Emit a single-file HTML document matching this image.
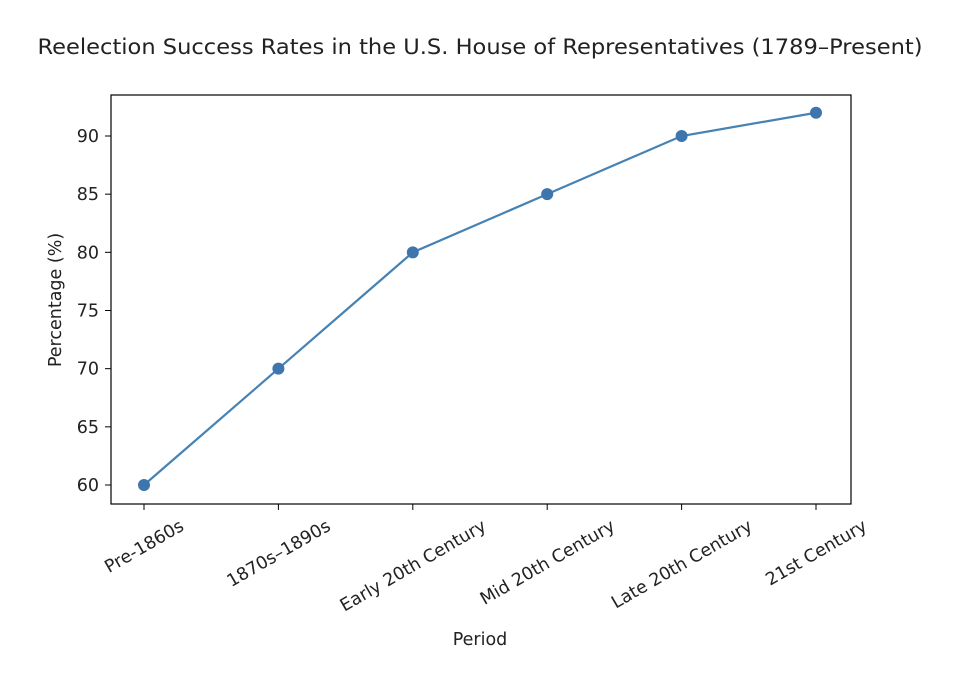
<!DOCTYPE html>
<html><head><meta charset="utf-8"><style>
body{margin:0;background:#fff;}
svg text{font-family:"DejaVu Sans","Liberation Sans",sans-serif;fill:#222;}
</style></head><body>
<svg width="958" height="688" viewBox="0 0 958 688" xmlns="http://www.w3.org/2000/svg">
<text x="480" y="54" text-anchor="middle" font-size="21" textLength="885" lengthAdjust="spacingAndGlyphs">Reelection Success Rates in the U.S. House of Representatives (1789–Present)</text>
<rect x="111" y="95" width="740" height="409" fill="none" stroke="#000" stroke-width="1.2"/>
<g id="yticks"></g><g id="xticks"></g>
<polyline id="line" fill="none" stroke="#4682b4" stroke-width="2.2"/>
<g id="pts"></g>
<text x="480" y="645" text-anchor="middle" font-size="17.5">Period</text>
<text transform="translate(61,300) rotate(-90)" text-anchor="middle" font-size="17.5">Percentage (%)</text>
</svg>
<script>
const categories=["Pre-1860s","1870s–1890s","Early 20th Century","Mid 20th Century","Late 20th Century","21st Century"];
const values=[60,70,80,85,90,92];
const yTicks=[60,65,70,75,80,85,90];
const NS="http://www.w3.org/2000/svg";
function xs(i){return 144+i*134.4;}
function ys(v){return 485-(v-60)*(485-136)/30;}
const yt=document.getElementById('yticks');
yTicks.forEach(t=>{
 const l=document.createElementNS(NS,'line');
 l.setAttribute('x1',105);l.setAttribute('x2',111);l.setAttribute('y1',ys(t));l.setAttribute('y2',ys(t));l.setAttribute('stroke','#000');
 
 
 yt.appendChild(l);
 const tx=document.createElementNS(NS,'text');
 tx.setAttribute('x',99);tx.setAttribute('y',ys(t)+6);tx.setAttribute('text-anchor','end');tx.setAttribute('font-size','17.5');
 tx.textContent=t;
 
 
 yt.appendChild(tx);
});
const xt=document.getElementById('xticks');
categories.forEach((c,i)=>{
 const x=xs(i);
 const l=document.createElementNS(NS,'line');
 l.setAttribute('x1',x);l.setAttribute('x2',x);l.setAttribute('y1',504);l.setAttribute('y2',510);l.setAttribute('stroke','#000');
 
 
 xt.appendChild(l);
 const tx=document.createElementNS(NS,'text');
 tx.setAttribute('text-anchor','middle');tx.setAttribute('font-size','17.5');tx.setAttribute('dy','0.35em');
 tx.textContent=c;
 
 
 xt.appendChild(tx);
 const w=tx.getComputedTextLength();
 tx.setAttribute('transform','translate('+x+','+(516+w*0.25+8)+') rotate(-30)');
});
document.getElementById('line').setAttribute('points',values.map((v,i)=>xs(i)+','+ys(v)).join(' '));
const pg=document.getElementById('pts');
values.forEach((v,i)=>{
 const c=document.createElementNS(NS,'circle');
 c.setAttribute('cx',xs(i));c.setAttribute('cy',ys(v));c.setAttribute('r',6);c.setAttribute('fill','#3f75ad');
 
 
 pg.appendChild(c);
});
</script>
</body></html>
